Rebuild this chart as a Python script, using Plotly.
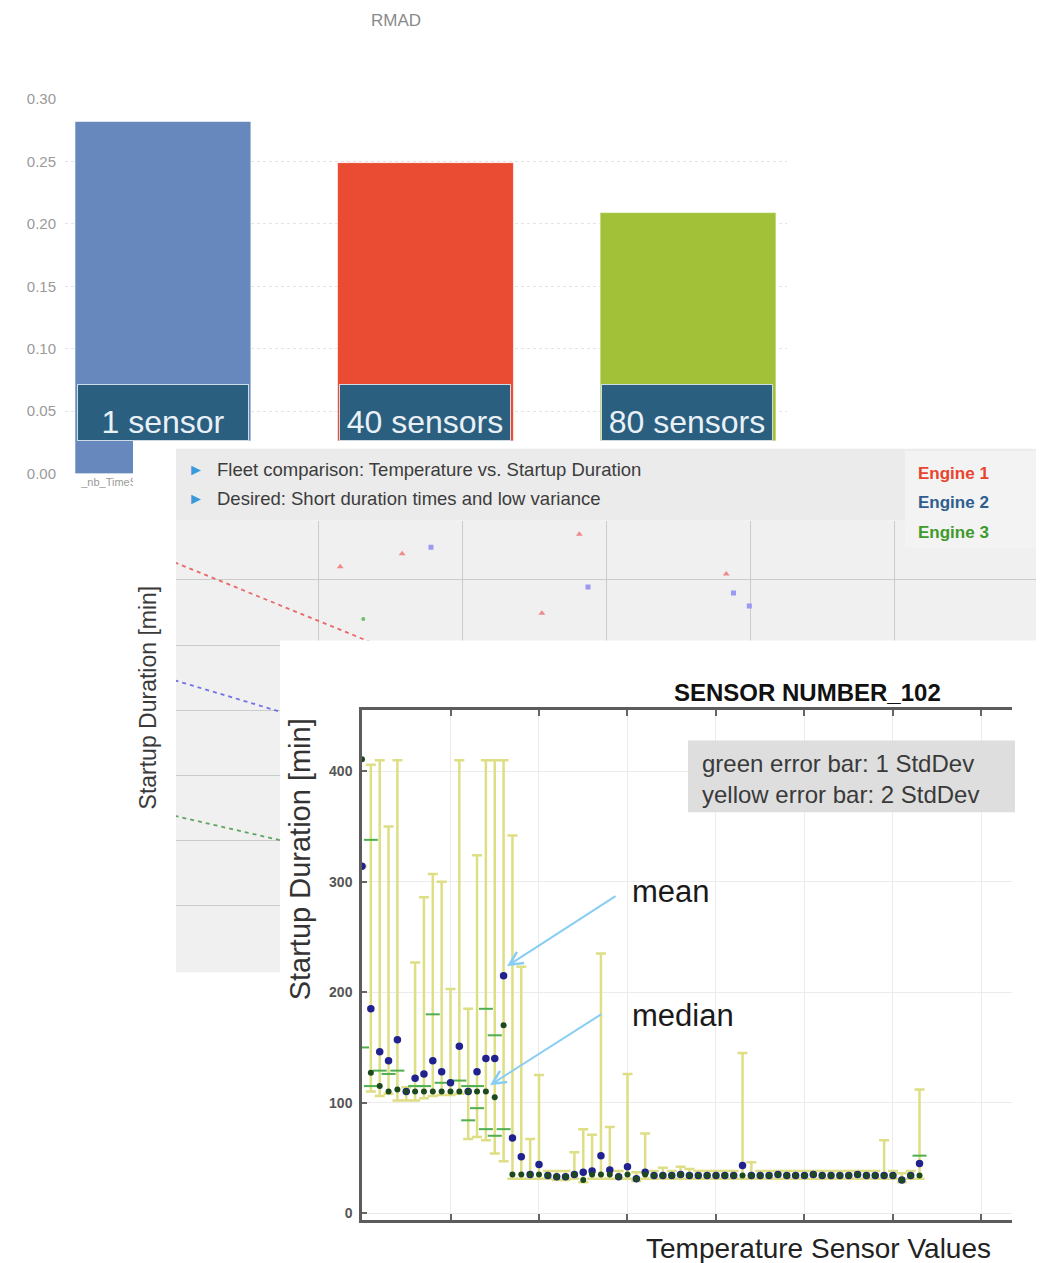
import plotly.graph_objects as go

W, H = 1045, 1263
TOP_OFF, PLOT_H = 8, 1247   # measured vertical placement of the paper area in the page


def px(x):
    return x / W


def py(y):
    return 1 - (y - TOP_OFF) / PLOT_H


FONT = "Liberation Sans, Arial, sans-serif"

# ---------------- data: top bar chart (RMAD) ----------------
BAR_CATEGORIES = ["_nb_TimeSeries_RMAD_1sensor", "_nb_TimeSeries_RMAD_40sensors", "_nb_TimeSeries_RMAD_80sensors"]
BAR_VALUES = [0.282, 0.249, 0.209]
BAR_LABELS = ["1 sensor", "40 sensors", "80 sensors"]
BAR_COLORS = ["#6688bd", "#ea4b33", "#a2c038"]
BAR_TICKS = [0.00, 0.05, 0.10, 0.15, 0.20, 0.25, 0.30]

# ---------------- data: middle fleet chart ----------------
FLEET_NOTES = ["Fleet comparison: Temperature vs. Startup Duration",
               "Desired: Short duration times and low variance"]
ENGINES = ["Engine 1", "Engine 2", "Engine 3"]
ENGINE_COLORS = ["#e8442e", "#2e5d8e", "#3e9a2a"]
E1_X = [1.15, 1.58, 2.81, 2.55, 3.83]
E1_Y = [6.20, 6.40, 6.70, 5.49, 6.09]
E2_X = [1.78, 2.87, 3.88, 3.99]
E2_Y = [6.50, 5.89, 5.80, 5.60]
E3_X = [1.31]
E3_Y = [5.40]
TREND_X = [0.0, 5.9]
E1_TREND = [6.27, 0.96]
E2_TREND = [4.46, 0.58]
E3_TREND = [2.38, -0.63]

# ---------------- data: bottom sensor chart ----------------
SENSOR_X = list(range(64))
MEAN = [314, 185, 146, 138, 157, 110, 122, 126, 138, 128,
        118, 151, 110, 128, 140, 140, 215, 68, 51, 35,
        44, 34, 33, 33, 35, 37, 38, 52, 39, 33,
        42, 31, 37, 34, 34, 34, 35, 34, 34, 34,
        34, 34, 34, 43, 34, 34, 34, 35, 34, 34,
        34, 35, 34, 34, 34, 34, 35, 34, 34, 34,
        34, 30, 34, 45]
MEDIAN = [411, 127, 115, 110, 112, 110, 110, 110, 110, 110,
          110, 110, 110, 110, 110, 105, 170, 35, 35, 35,
          35, 34, 33, 33, 35, 30, 35, 35, 35, 33,
          35, 31, 35, 34, 34, 34, 35, 34, 34, 34,
          34, 34, 34, 34, 34, 34, 34, 35, 34, 34,
          34, 35, 34, 34, 34, 34, 35, 34, 34, 34,
          34, 30, 34, 34]
SD2_LOW = [None, 110, 106, 108, 102, 102, 102, 104, 106, 107,
           107, 108, 67, 69, 66, 54, 47, 31, 31, 31,
           31, 31, 30, 30, 31, 28, 31, 31, 31, 31,
           31, 29, 31, 31, 31, 31, 31, 31, 31, 31,
           31, 31, 31, 31, 31, 31, 31, 31, 31, 31,
           31, 31, 31, 31, 31, 31, 31, 31, 31, 31,
           31, 28, 31, 31]
SD2_HIGH = [None, 406, 410, 350, 410, 114, 227, 286, 307, 300,
            203, 410, 185, 324, 410, 410, 410, 342, 223, 67,
            125, 38, 38, 38, 55, 76, 71, 235, 78, 38,
            126, 37, 72, 38, 41, 38, 42, 40, 38, 38,
            38, 38, 38, 145, 46, 38, 38, 38, 38, 38,
            38, 38, 38, 38, 38, 38, 38, 38, 38, 66,
            38, 36, 38, 112]
SD1_LOW = [150, 115, None, None, None, None, None, None, None, None,
           None, None, 84, 95, 76, 70, 76, None, None, None] + [None] * 44
SD1_HIGH = [None, 338, 129, 126, 129, None, 115, 115, 180, 118,
            None, 120, 115, 115, 185, 161, None, None, None, None] + [None] * 43 + [52]

SENSOR_Y_TICKS = [0, 100, 200, 300, 400]
SENSOR_X_TICKS = [10, 20, 30, 40, 50, 60, 70]

fig = go.Figure()

# ---------- top bar chart (x / y) ----------
fig.add_trace(go.Bar(
    x=BAR_CATEGORIES, y=BAR_VALUES, width=0.67,
    marker=dict(color=BAR_COLORS, line=dict(width=1, color="rgba(255,255,255,0.6)")),
    xaxis="x", yaxis="y", hoverinfo="skip"))

# ---------- cover for the middle panel (x2 / y2) ----------
fig.add_trace(go.Scatter(x=[0.5], y=[0.5], mode="markers", marker=dict(opacity=0),
                         xaxis="x2", yaxis="y2", hoverinfo="skip"))
# ---------- header band of middle panel (x3 / y3) ----------
fig.add_trace(go.Scatter(x=[0.5], y=[0.5], mode="markers", marker=dict(opacity=0),
                         xaxis="x3", yaxis="y3", hoverinfo="skip"))

# ---------- middle fleet chart (x4 / y4) ----------
for ty, col in [(E1_TREND, "rgba(232,80,80,0.85)"), (E2_TREND, "rgba(90,90,230,0.85)"),
                (E3_TREND, "rgba(70,150,70,0.85)")]:
    fig.add_trace(go.Scatter(x=TREND_X, y=ty, mode="lines",
                             line=dict(color=col, width=1.8, dash="4px,4px"),
                             xaxis="x4", yaxis="y4", hoverinfo="skip"))
fig.add_trace(go.Scatter(x=E1_X, y=E1_Y, mode="markers",
                         marker=dict(symbol="triangle-up", size=6, color="#f08a8a"),
                         xaxis="x4", yaxis="y4", hoverinfo="skip"))
fig.add_trace(go.Scatter(x=E2_X, y=E2_Y, mode="markers",
                         marker=dict(symbol="square", size=5, color="#9a9af2"),
                         xaxis="x4", yaxis="y4", hoverinfo="skip"))
fig.add_trace(go.Scatter(x=E3_X, y=E3_Y, mode="markers",
                         marker=dict(symbol="circle", size=4, color="#6cc06c"),
                         xaxis="x4", yaxis="y4", hoverinfo="skip"))

# ---------- cover for bottom panel (x5 / y5) ----------
fig.add_trace(go.Scatter(x=[0.5], y=[0.5], mode="markers", marker=dict(opacity=0),
                         xaxis="x5", yaxis="y5", hoverinfo="skip"))

# ---------- bottom sensor chart (x6 / y6) ----------
err_plus = [(h - m) if h is not None else None for h, m in zip(SD2_HIGH, MEAN)]
err_minus = [(m - l) if l is not None else None for l, m in zip(SD2_LOW, MEAN)]
fig.add_trace(go.Scatter(
    x=SENSOR_X, y=MEAN, mode="markers", marker=dict(size=1, color="rgba(0,0,0,0)"),
    error_y=dict(type="data", symmetric=False, array=err_plus, arrayminus=err_minus,
                 color="#dede84", thickness=2.5, width=5),
    xaxis="x6", yaxis="y6", hoverinfo="skip"))
g_x = [x for x, v in zip(SENSOR_X, SD1_LOW) if v is not None] + \
      [x for x, v in zip(SENSOR_X, SD1_HIGH) if v is not None]
g_y = [v for v in SD1_LOW if v is not None] + [v for v in SD1_HIGH if v is not None]
fig.add_trace(go.Scatter(
    x=g_x, y=g_y, mode="markers",
    marker=dict(symbol="line-ew", size=10, line=dict(width=2, color="#4fae4f")),
    xaxis="x6", yaxis="y6", hoverinfo="skip"))
fig.add_trace(go.Scatter(
    x=SENSOR_X, y=MEAN, mode="markers",
    marker=dict(size=7.5, color="#22228e", line=dict(width=0)),
    xaxis="x6", yaxis="y6", hoverinfo="skip"))
fig.add_trace(go.Scatter(
    x=SENSOR_X, y=MEDIAN, mode="markers",
    marker=dict(size=6, color="#1d4a1d", line=dict(width=0)),
    xaxis="x6", yaxis="y6", hoverinfo="skip"))

hidden = dict(showgrid=False, zeroline=False, showticklabels=False, showline=False,
              ticks="", range=[0, 1], fixedrange=True)

fig.update_layout(
    width=W, height=H, autosize=False,
    margin=dict(l=0, r=0, t=0, b=0, pad=0),
    paper_bgcolor="white", plot_bgcolor="white",
    showlegend=False, barmode="overlay",
    font=dict(family=FONT),
    xaxis=dict(domain=[px(65), px(787)], anchor="y", type="category",
               range=[-0.373, 2.377], showgrid=False, zeroline=False, showline=False,
               tickvals=[BAR_CATEGORIES[0]], ticktext=[BAR_CATEGORIES[0]],
               ticks="", tickfont=dict(size=11, color="#9a9a9a")),
    yaxis=dict(domain=[py(473), py(98)], anchor="x", range=[0, 0.30],
               tickvals=BAR_TICKS, tickformat=".2f", showgrid=True,
               gridcolor="#e4e4e4", griddash="dot", zeroline=False, showline=False,
               ticks="", ticklabelstandoff=8, tickfont=dict(size=15, color="#9a9a9a")),
    xaxis2=dict(domain=[px(133), 1.0], anchor="y2", **hidden),
    yaxis2=dict(domain=[py(520), py(440)], anchor="x2", **hidden),
    xaxis3=dict(domain=[px(176), px(1036)], anchor="y3", **hidden),
    yaxis3=dict(domain=[py(520), py(448)], anchor="x3", **hidden),
    xaxis4=dict(domain=[px(176), px(1036)], anchor="y4", range=[0.01, 5.98],
                tickvals=[1, 2, 3, 4, 5], showgrid=True, gridcolor="#cbcbcb",
                zeroline=False, showticklabels=False, ticks="", showline=False),
    yaxis4=dict(domain=[py(972), py(520)], anchor="x4", range=[-0.02, 6.91],
                tickvals=[1, 2, 3, 4, 5, 6], showgrid=True, gridcolor="#cbcbcb",
                zeroline=False, showticklabels=False, ticks="", showline=False),
    xaxis5=dict(domain=[px(280), 1.0], anchor="y5", **hidden),
    yaxis5=dict(domain=[max(0.0, py(H)), py(640)], anchor="x5", **hidden),
    xaxis6=dict(domain=[px(362), px(1012)], anchor="y6", range=[0, 73.45],
                tickvals=SENSOR_X_TICKS, showticklabels=False, ticks="inside",
                ticklen=6, tickwidth=1.5, tickcolor="#666666",
                showgrid=True, gridcolor="#ebebeb", zeroline=False,
                showline=True, linecolor="#5c5c5c", linewidth=2.5, mirror="ticks"),
    yaxis6=dict(domain=[py(1220), py(710)], anchor="x6", range=[-6.3, 455.2],
                tickvals=SENSOR_Y_TICKS, ticks="inside", ticklen=5, tickwidth=1.5,
                tickcolor="#666666", showgrid=True, gridcolor="#ebebeb", zeroline=False,
                showline=True, linecolor="#5c5c5c", linewidth=2.5, mirror=False,
                ticklabelstandoff=4,
                tickfont=dict(size=14, color="#555555", weight="bold")),
)

shapes = [
    dict(type="rect", xref="x3", yref="y3", x0=-1, x1=2, y0=-1, y1=2,
         fillcolor="#ebebeb", line=dict(width=0), layer="below"),
    dict(type="rect", xref="x4", yref="y4", x0=-1, x1=10, y0=-1, y1=10,
         fillcolor="#f0f0f0", line=dict(width=0), layer="below"),
    dict(type="rect", xref="paper", yref="paper", x0=px(905), x1=px(1036),
         y0=py(547), y1=py(450), fillcolor="#f3f3f3", line=dict(width=0), layer="above"),
    dict(type="rect", xref="paper", yref="paper", x0=px(688), x1=px(1015),
         y0=py(812), y1=py(740), fillcolor="#dedede", line=dict(width=0), layer="above"),
]
fig.update_layout(shapes=shapes)


def label(x, y, text, size, color, xanchor="center", yanchor="middle", **kw):
    d = dict(x=px(x), y=py(y), xref="paper", yref="paper", text=text, showarrow=False,
             xanchor=xanchor, yanchor=yanchor, font=dict(size=size, color=color))
    d.update(kw)
    return d


ann = []
ann.append(label(396, 20, "RMAD", 17, "#8a8a8a"))
for cx, lab in zip([163, 425, 687], BAR_LABELS):
    ann.append(dict(x=px(cx), y=py(383), xref="paper", yref="paper", xanchor="center",
                    yanchor="top", text=lab, showarrow=False,
                    font=dict(size=32, color="#eaf1f6"), bgcolor="#2b5f80",
                    bordercolor="#cddbe4", borderwidth=1, borderpad=0,
                    width=170, height=55, valign="bottom"))
for yy, note in zip([469, 498], FLEET_NOTES):
    ann.append(label(196, yy, "\u25BA", 16, "#3a98dd"))
    ann.append(label(215, yy, note, 18.5, "#3c3c3c", xanchor="left"))
for yy, name, col in zip([473, 502, 532], ENGINES, ENGINE_COLORS):
    ann.append(label(953, yy, "<b>%s</b>" % name, 17, col))
ann.append(label(148, 697, "Startup Duration [min]", 23, "#3a3a3a", textangle=-90))
ann.append(label(807, 692, "<b>SENSOR NUMBER_102</b>", 24, "#111111"))
ann.append(label(700, 779, "green error bar: 1 StdDev<br>yellow error bar: 2 StdDev", 24,
                 "#3a3a3a", xanchor="left", align="left"))
ann.append(label(630, 891, "mean", 31, "#1a1a1a", xanchor="left"))
ann.append(label(630, 1015, "median", 31, "#1a1a1a", xanchor="left"))
ann.append(dict(x=px(507), y=py(966), xref="paper", yref="paper", text="", showarrow=True,
                ax=110, ay=-71, arrowhead=5, arrowsize=1.3, arrowwidth=2,
                arrowcolor="#88cdf3", standoff=0, startstandoff=0))
ann.append(dict(x=px(490), y=py(1085), xref="paper", yref="paper", text="", showarrow=True,
                ax=113, ay=-72, arrowhead=5, arrowsize=1.3, arrowwidth=2,
                arrowcolor="#88cdf3", standoff=0, startstandoff=0))
ann.append(label(818, 1248, "Temperature Sensor Values", 28, "#222222"))
ann.append(label(300, 859, "Startup Duration [min]", 29, "#333333", textangle=-90))
fig.update_layout(annotations=ann)

fig.write_html("out.html", config={"displayModeBar": False},
               post_script="document.body.style.margin='0';")
